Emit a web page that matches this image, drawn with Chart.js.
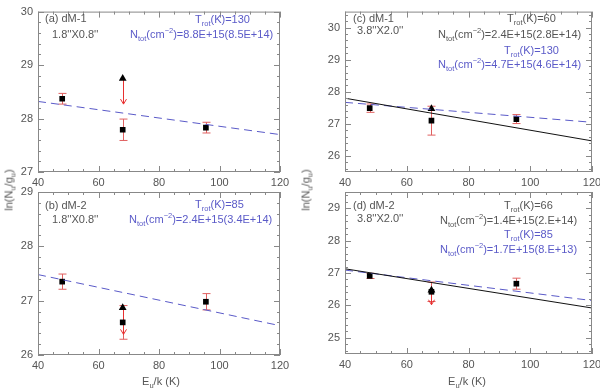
<!DOCTYPE html>
<html>
<head>
<meta charset="utf-8">
<script src="https://cdn.jsdelivr.net/npm/chart.js@4.4.1/dist/chart.umd.min.js"></script>
<style>
  body { margin: 0; background: #fff; }
  #wrap { position: relative; width: 600px; height: 388px; overflow: hidden; font-family: "Liberation Sans", Arial, sans-serif; color: #555; }
  canvas { position: absolute; }
  .lbl { position: absolute; font-size: 11px; line-height: 13px; white-space: nowrap; color: #555; }
  .lbl sub, .lbl sup { font-size: 7.5px; line-height: 0; }
  .blue { color: #5a5ac8; }
  .ytitle { transform: translate(-50%, -50%) rotate(-90deg); }
  .xtitle { transform: translate(-50%, -50%); }
</style>
</head>
<body>
<div id="wrap">
  <canvas id="cA" width="300" height="190" style="left:0;top:0"></canvas>
  <canvas id="cB" width="300" height="212" style="left:0;top:176px"></canvas>
  <canvas id="cC" width="310" height="190" style="left:300px;top:0"></canvas>
  <canvas id="cD" width="310" height="212" style="left:300px;top:176px"></canvas>

  <!-- panel (a) -->
  <div class="lbl" style="left:45px;top:12px">(a) dM-1</div>
  <div class="lbl" style="left:52px;top:28px">1.8''X0.8''</div>
  <div class="lbl blue" style="left:195px;top:13px">T<sub>rot</sub>(K)=130</div>
  <div class="lbl blue" style="left:130px;top:28px">N<sub>tot</sub>(cm<sup>−2</sup>)=8.8E+15(8.5E+14)</div>

  <!-- panel (b) -->
  <div class="lbl" style="left:45px;top:199px">(b) dM-2</div>
  <div class="lbl" style="left:52px;top:213px">1.8''X0.8''</div>
  <div class="lbl blue" style="left:195px;top:198px">T<sub>rot</sub>(K)=85</div>
  <div class="lbl blue" style="left:129px;top:213px">N<sub>tot</sub>(cm<sup>−2</sup>)=2.4E+15(3.4E+14)</div>

  <!-- panel (c) -->
  <div class="lbl" style="left:353px;top:12px">(c) dM-1</div>
  <div class="lbl" style="left:357px;top:24px">3.8''X2.0''</div>
  <div class="lbl" style="left:507px;top:12px">T<sub>rot</sub>(K)=60</div>
  <div class="lbl" style="left:438px;top:28px">N<sub>tot</sub>(cm<sup>−2</sup>)=2.4E+15(2.8E+14)</div>
  <div class="lbl blue" style="left:504px;top:44px">T<sub>rot</sub>(K)=130</div>
  <div class="lbl blue" style="left:438px;top:58px">N<sub>tot</sub>(cm<sup>−2</sup>)=4.7E+15(4.6E+14)</div>

  <!-- panel (d) -->
  <div class="lbl" style="left:353px;top:199px">(d) dM-2</div>
  <div class="lbl" style="left:357px;top:212px">3.8''X2.0''</div>
  <div class="lbl" style="left:504px;top:199px">T<sub>rot</sub>(K)=66</div>
  <div class="lbl" style="left:440px;top:214px">N<sub>tot</sub>(cm<sup>−2</sup>)=1.4E+15(2.E+14)</div>
  <div class="lbl blue" style="left:504px;top:228px">T<sub>rot</sub>(K)=85</div>
  <div class="lbl blue" style="left:440px;top:243px">N<sub>tot</sub>(cm<sup>−2</sup>)=1.7E+15(8.E+13)</div>

  <!-- axis titles -->
  <div class="lbl ytitle" style="left:9px;top:190px">ln(N<sub>u</sub>/g<sub>u</sub>)</div>
  <div class="lbl ytitle" style="left:306px;top:190px">ln(N<sub>u</sub>/g<sub>u</sub>)</div>
  <div class="lbl xtitle" style="left:161px;top:381px">E<sub>u</sub>/k (K)</div>
  <div class="lbl xtitle" style="left:467px;top:381px">E<sub>u</sub>/k (K)</div>
</div>

<script>
// upper energies of the three transitions (K)
const energies = [48, 68, 95.5];
const fitX = [40, 120];

// panel (a) dM-1, 1.8"x0.8"
const aSquares = [28.37, 27.79, 27.83];
const aErrors = [0.10, 0.20, 0.10];
const aTriangle = 28.75;
const aArrowTo = 28.27;
const aDashed = [28.32, 27.70];

// panel (b) dM-2, 1.8"x0.8"
const bSquares = [27.35, 26.60, 26.98];
const bErrors = [0.14, 0.31, 0.15];
const bTriangle = 26.87;
const bArrowTo = 26.38;
const bDashed = [27.48, 26.54];

// panel (c) dM-1, 3.8"x2.0"
const cSquares = [27.49, 27.10, 27.15];
const cErrors = [0.13, 0.45, 0.14];
const cTriangle = 27.47;
const cArrowTo = null;
const cSolid = [27.80, 26.47];
const cDashed = [27.67, 27.05];

// panel (d) dM-2, 3.8"x2.0"
const dSquares = [26.91, 26.42, 26.67];
const dErrors = [0.08, 0.30, 0.17];
const dTriangle = 26.47;
const dArrowTo = 26.02;
const dSolid = [27.13, 25.92];
const dDashed = [27.09, 26.15];

Chart.defaults.font.family = '"Liberation Sans", Arial, sans-serif';
Chart.defaults.font.size = 11;
Chart.defaults.color = '#555';

// inward PGPLOT style ticks on all four sides + frame
const frameTicks = {
    id: 'frameTicks',
    afterDatasetsDraw(chart, args, opts) {
        const { ctx, chartArea: a, scales: { x, y } } = chart;
        ctx.save();
        ctx.strokeStyle = '#888';
        ctx.lineWidth = 1;
        ctx.strokeRect(a.left + 0.5, a.top + 0.5, a.right - a.left - 1, a.bottom - a.top - 1);
        ctx.beginPath();
        let n = Math.round((x.max - x.min) / opts.xMinor);
        for (let i = 0; i <= n; i++) {
            let v = x.min + i * opts.xMinor;
            let px = Math.round(x.getPixelForValue(v)) + 0.5;
            let len = (i % opts.xPer === 0) ? 6 : 3;
            ctx.moveTo(px, a.bottom); ctx.lineTo(px, a.bottom - len);
            ctx.moveTo(px, a.top); ctx.lineTo(px, a.top + len);
        }
        let k0 = Math.ceil(y.min / opts.yMinor - 1e-6);
        let k1 = Math.floor(y.max / opts.yMinor + 1e-6);
        for (let k = k0; k <= k1; k++) {
            let v = k * opts.yMinor;
            let py = Math.round(y.getPixelForValue(v)) + 0.5;
            let len = (k % opts.yPer === 0) ? 6 : 3;
            ctx.moveTo(a.left, py); ctx.lineTo(a.left + len, py);
            ctx.moveTo(a.right, py); ctx.lineTo(a.right - len, py);
        }
        ctx.stroke();
        ctx.restore();
    }
};

// red error bars and upper-limit arrows
const errorBars = {
    id: 'errorBars',
    beforeDatasetsDraw(chart, args, opts) {
        const { ctx, scales: { x, y } } = chart;
        ctx.save();
        ctx.lineWidth = 1;
        ctx.strokeStyle = '#e06060';
        ctx.beginPath();
        opts.values.forEach((v, i) => {
            let px = Math.round(x.getPixelForValue(energies[i])) + 0.5;
            let top = y.getPixelForValue(v + opts.errors[i]);
            let bot = y.getPixelForValue(v - opts.errors[i]);
            ctx.moveTo(px, top); ctx.lineTo(px, bot);
            ctx.moveTo(px - 4, top); ctx.lineTo(px + 4, top);
            ctx.moveTo(px - 4, bot); ctx.lineTo(px + 4, bot);
        });
        ctx.stroke();
        if (opts.arrowTo !== null) {
            let px = Math.round(x.getPixelForValue(energies[1])) + 0.5;
            let top = y.getPixelForValue(opts.triangle);
            let bot = y.getPixelForValue(opts.arrowTo);
            ctx.strokeStyle = '#e83030';
            ctx.beginPath();
            ctx.moveTo(px, top); ctx.lineTo(px, bot);
            ctx.moveTo(px - 3, bot - 5); ctx.lineTo(px, bot); ctx.lineTo(px + 3, bot - 5);
            ctx.stroke();
        }
        ctx.restore();
    }
};

function pts(xs, ys) {
    return xs.map((v, i) => ({ x: v, y: ys[i] }));
}

function makePanel(id, p) {
    const datasets = [];
    if (p.solid) {
        datasets.push({
            data: pts(fitX, p.solid), showLine: true, borderColor: '#111',
            borderWidth: 1, pointRadius: 0
        });
    }
    datasets.push({
        data: pts(fitX, p.dashed), showLine: true, borderColor: '#5a5ac8',
        borderWidth: 1, borderDash: [8, 5], pointRadius: 0
    });
    datasets.push({
        data: pts(energies, p.squares), pointStyle: 'rect', pointRadius: 4,
        backgroundColor: '#000', borderColor: '#000', borderWidth: 0
    });
    datasets.push({
        data: [{ x: energies[1], y: p.triangle }], pointStyle: 'triangle', pointRadius: 4.5,
        backgroundColor: '#000', borderColor: '#000', borderWidth: 0
    });

    new Chart(document.getElementById(id), {
        type: 'scatter',
        data: { datasets },
        options: {
            responsive: false,
            animation: false,
            devicePixelRatio: 1,
            layout: { padding: { top: p.padTop, right: p.padRight, left: 0, bottom: 0 } },
            plugins: {
                legend: { display: false },
                tooltip: { enabled: false },
                frameTicks: { xMinor: 5, xPer: 4, yMinor: 0.2, yPer: 5 },
                errorBars: { values: p.squares, errors: p.errors, triangle: p.triangle, arrowTo: p.arrowTo }
            },
            scales: {
                x: {
                    type: 'linear', min: 40, max: 120,
                    border: { display: false },
                    grid: { display: false, drawTicks: false },
                    ticks: { stepSize: 20, padding: 4, maxRotation: 0 },
                    afterFit(s) { s.height = p.xHeight; }
                },
                y: {
                    type: 'linear', min: p.yMin, max: p.yMax,
                    border: { display: false },
                    grid: { display: false, drawTicks: false },
                    ticks: { padding: 5 },
                    afterBuildTicks(s) {
                        const t = [];
                        for (let v = Math.ceil(s.min); v <= Math.floor(s.max); v++) t.push({ value: v });
                        s.ticks = t;
                    },
                    afterFit(s) { s.width = p.yWidth; }
                }
            }
        },
        plugins: [errorBars, frameTicks]
    });
}

makePanel('cA', { squares: aSquares, errors: aErrors, triangle: aTriangle, arrowTo: aArrowTo,
    dashed: aDashed, yMin: 27, yMax: 30, padTop: 7, padRight: 20, yWidth: 38, xHeight: 18 });
makePanel('cB', { squares: bSquares, errors: bErrors, triangle: bTriangle, arrowTo: bArrowTo,
    dashed: bDashed, yMin: 26, yMax: 29, padTop: 16, padRight: 20, yWidth: 38, xHeight: 33 });
makePanel('cC', { squares: cSquares, errors: cErrors, triangle: cTriangle, arrowTo: cArrowTo,
    solid: cSolid, dashed: cDashed, yMin: 25.5, yMax: 30.5, padTop: 7, padRight: 18, yWidth: 45, xHeight: 18 });
makePanel('cD', { squares: dSquares, errors: dErrors, triangle: dTriangle, arrowTo: dArrowTo,
    solid: dSolid, dashed: dDashed, yMin: 24.5, yMax: 29.5, padTop: 16, padRight: 18, yWidth: 45, xHeight: 34 });
</script>
</body>
</html>
